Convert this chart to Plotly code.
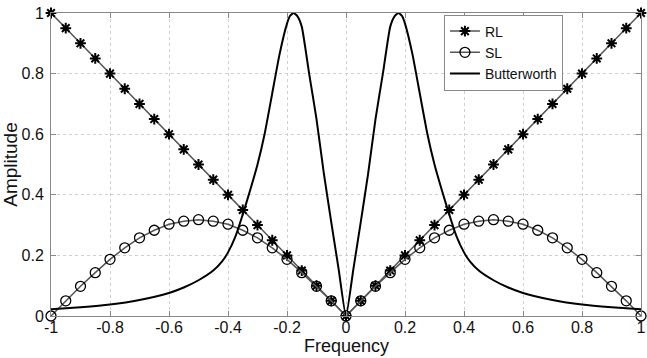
import plotly.graph_objects as go

# Marker frequencies (every 0.05)
freq = [-1.0, -0.95, -0.9, -0.85, -0.8, -0.75, -0.7, -0.65, -0.6, -0.55, -0.5,
        -0.45, -0.4, -0.35, -0.3, -0.25, -0.2, -0.15, -0.1, -0.05, 0.0,
        0.05, 0.1, 0.15, 0.2, 0.25, 0.3, 0.35, 0.4, 0.45, 0.5,
        0.55, 0.6, 0.65, 0.7, 0.75, 0.8, 0.85, 0.9, 0.95, 1.0]

rl = [1.0, 0.95, 0.9, 0.85, 0.8, 0.75, 0.7, 0.65, 0.6, 0.55, 0.5,
      0.45, 0.4, 0.35, 0.3, 0.25, 0.2, 0.15, 0.1, 0.05, 0.0,
      0.05, 0.1, 0.15, 0.2, 0.25, 0.3, 0.35, 0.4, 0.45, 0.5,
      0.55, 0.6, 0.65, 0.7, 0.75, 0.8, 0.85, 0.9, 0.95, 1.0]

sl = [0.0, 0.05, 0.098, 0.143, 0.187, 0.225, 0.258, 0.283, 0.303, 0.313, 0.318,
      0.313, 0.303, 0.283, 0.258, 0.225, 0.187, 0.143, 0.098, 0.05, 0.0,
      0.05, 0.098, 0.143, 0.187, 0.225, 0.258, 0.283, 0.303, 0.313, 0.318,
      0.313, 0.303, 0.283, 0.258, 0.225, 0.187, 0.143, 0.098, 0.05, 0.0]

bw_freq = [-1.0, -0.9, -0.8, -0.7, -0.6, -0.55, -0.5, -0.45, -0.42, -0.4, -0.375,
           -0.35, -0.325, -0.3, -0.275, -0.25, -0.225, -0.2, -0.19, -0.178,
           -0.165, -0.15, -0.125, -0.1, -0.075, -0.05, -0.025, 0.0,
           0.025, 0.05, 0.075, 0.1, 0.125, 0.15, 0.165, 0.178, 0.19, 0.2,
           0.225, 0.25, 0.275, 0.3, 0.325, 0.35, 0.375, 0.4, 0.42, 0.45,
           0.5, 0.55, 0.6, 0.7, 0.8, 0.9, 1.0]
bw_amp = [0.022, 0.029, 0.038, 0.053, 0.076, 0.094, 0.118, 0.150, 0.180, 0.210, 0.262,
          0.335, 0.415, 0.50, 0.605, 0.735, 0.865, 0.965, 0.99, 1.0,
          0.99, 0.955, 0.80, 0.65, 0.47, 0.31, 0.155, 0.0,
          0.155, 0.31, 0.47, 0.65, 0.80, 0.955, 0.99, 1.0, 0.99, 0.965,
          0.865, 0.735, 0.605, 0.50, 0.415, 0.335, 0.262, 0.210, 0.180, 0.150,
          0.118, 0.094, 0.076, 0.053, 0.038, 0.029, 0.022]

x_ticks = [-1, -0.8, -0.6, -0.4, -0.2, 0, 0.2, 0.4, 0.6, 0.8, 1]
x_labels = ["-1", "-0.8", "-0.6", "-0.4", "-0.2", "0", "0.2", "0.4", "0.6", "0.8", "1"]
y_ticks = [0, 0.2, 0.4, 0.6, 0.8, 1]
y_labels = ["0", "0.2", "0.4", "0.6", "0.8", "1"]

FONT = "Liberation Sans, Arial, sans-serif"

fig = go.Figure()
fig.add_trace(go.Scatter(
    x=freq, y=rl, name="RL", mode="lines+markers", cliponaxis=False,
    line=dict(color="#555555", width=1.5),
    marker=dict(symbol="asterisk", size=9, color="black",
                line=dict(color="black", width=2)),
))
fig.add_trace(go.Scatter(
    x=freq, y=sl, name="SL", mode="lines+markers", cliponaxis=False,
    line=dict(color="#555555", width=1.5),
    marker=dict(symbol="circle-open", size=10, color="black",
                line=dict(color="black", width=1.3)),
))
fig.add_trace(go.Scatter(
    x=bw_freq, y=bw_amp, name="Butterworth", mode="lines",
    line=dict(color="black", width=2, shape="spline", smoothing=0.5),
))

fig.update_layout(
    width=647, height=358,
    margin=dict(l=51, r=6, t=13, b=42),
    paper_bgcolor="white", plot_bgcolor="white",
    font=dict(family=FONT, size=16, color="#111111"),
    showlegend=True,
    legend=dict(x=0.666, y=0.995, xanchor="left", yanchor="top",
                bgcolor="white", bordercolor="#888888", borderwidth=1,
                font=dict(size=14), tracegroupgap=0, itemwidth=30,
                traceorder="normal"),
    xaxis=dict(
        range=[-1, 1], tickvals=x_ticks, ticktext=x_labels,
        ticklabeloverflow="allow", automargin=False, ticklabelstandoff=-3,
        showgrid=True, gridcolor="#d0d0d0", griddash="dot", gridwidth=1,
        zeroline=False, showline=True, linecolor="#888888", linewidth=1,
        mirror="ticks", ticks="inside", ticklen=5, tickcolor="#888888",
        tickfont=dict(size=16),
    ),
    yaxis=dict(
        range=[0, 1], tickvals=y_ticks, ticktext=y_labels,
        ticklabeloverflow="allow", automargin=False, ticklabelstandoff=3,
        showgrid=True, gridcolor="#d0d0d0", griddash="dot", gridwidth=1,
        zeroline=False, showline=True, linecolor="#888888", linewidth=1,
        mirror="ticks", ticks="inside", ticklen=5, tickcolor="#888888",
        title=dict(text="Amplitude", font=dict(size=19), standoff=2),
        tickfont=dict(size=16),
    ),
    annotations=[dict(
        text="Frequency", xref="paper", yref="paper", x=0.5, y=0,
        xanchor="center", yanchor="top", yshift=-19, showarrow=False,
        font=dict(size=18), borderpad=0,
    )],
)

fig.write_html("out.html")
